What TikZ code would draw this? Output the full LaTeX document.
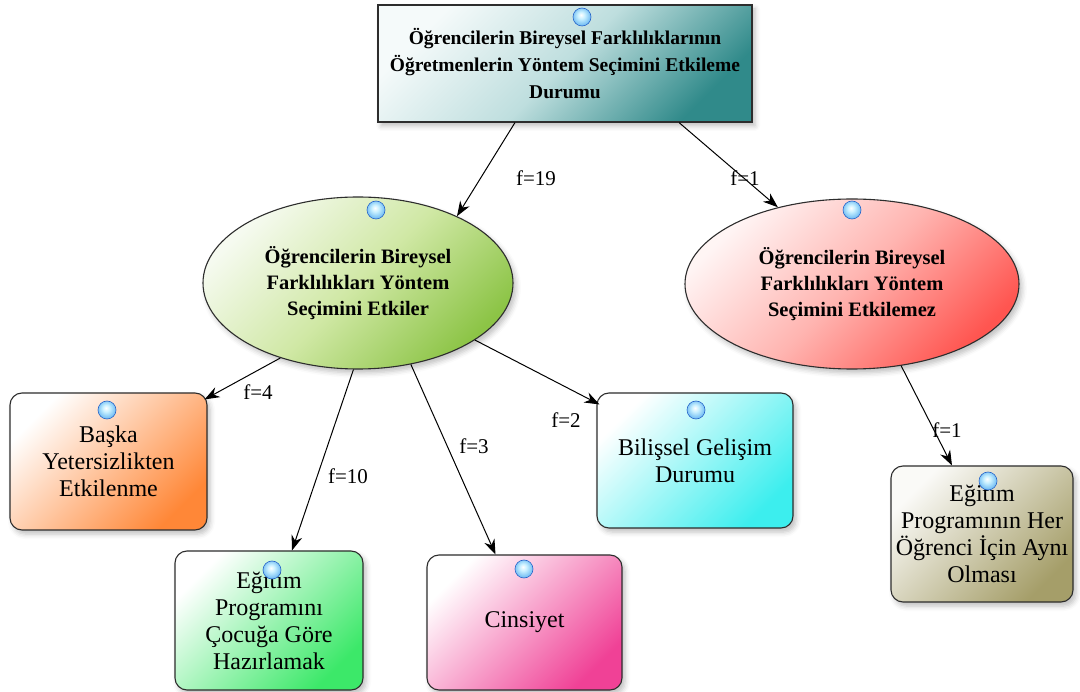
\documentclass[tikz,border=0pt]{standalone}
\usepackage{fontspec}
\setmainfont{Liberation Serif}
\usetikzlibrary{shapes.geometric,arrows.meta,calc,shadows.blur}

\definecolor{edgegray}{RGB}{45,45,45}
\definecolor{tealend}{RGB}{48,138,138}
\definecolor{tealmid}{RGB}{190,222,222}
\definecolor{greenend}{RGB}{140,196,70}
\definecolor{greenmid}{RGB}{208,232,165}
\definecolor{redend}{RGB}{255,85,80}
\definecolor{redmid}{RGB}{255,180,176}
\definecolor{orangeend}{RGB}{255,135,55}
\definecolor{mintend}{RGB}{60,232,105}
\definecolor{pinkend}{RGB}{240,65,150}
\definecolor{cyanend}{RGB}{60,238,238}
\definecolor{oliveend}{RGB}{165,158,105}
\definecolor{ballrim}{RGB}{40,100,200}
\definecolor{ballbody}{RGB}{90,175,240}
\definecolor{balllight}{RGB}{200,240,255}

% glassy status marker
\pgfdeclareradialshading{glassball}{\pgfpoint{-3bp}{6bp}}{%
  color(0bp)=(white); color(10bp)=(balllight); color(30bp)=(ballbody);
  color(42bp)=(ballrim); color(50bp)=(ballrim!80!black)}

\tikzset{
  frame/.style={draw=edgegray, line width=1.1pt},
  shadowed/.style={blur shadow={shadow xshift=3pt, shadow yshift=-4pt,
      shadow blur radius=5pt, shadow opacity=25}},
  headbox/.style={frame, shadowed, rectangle, minimum width=374pt,
      minimum height=117pt, align=center,
      font=\fontsize{19.5}{27}\selectfont\bfseries},
  bigoval/.style={frame, shadowed, ellipse, inner sep=0pt, align=center,
      font=\fontsize{20.5}{26}\selectfont\bfseries},
  leafbox/.style={frame, shadowed, rectangle, rounded corners=12pt,
      align=center, font=\fontsize{24}{27}\selectfont},
  grad/.style 2 args={top color=#1, bottom color=#2, shading angle=45},
  grad3/.style n args={3}{top color=#1, bottom color=#3, middle color=#2,
      shading angle=45},
  link/.style={draw=black, line width=1pt,
      -{Stealth[length=15pt,width=11pt]}},
  freq/.style={font=\fontsize{21}{24}\selectfont, inner sep=1pt},
  bubble/.style={circle, minimum size=18pt, inner sep=0pt,
      shading=glassball, draw=ballrim, line width=0.6pt},
}

\begin{document}
\begin{tikzpicture}[x=1pt,y=-1pt]
\useasboundingbox (0,0) rectangle (1080,692);

% main question
\node[headbox, grad3={white!96!teal}{tealmid}{tealend}] (top) at (565,63.5)
  {Öğrencilerin Bireysel Farklılıklarının\\
   Öğretmenlerin Yöntem Seçimini Etkileme\\ Durumu};

% two answers
\node[bigoval, minimum width=310pt, minimum height=172pt,
      grad3={white!92!greenend}{greenmid}{greenend}] (yes) at (358,283)
  {Öğrencilerin Bireysel\\ Farklılıkları Yöntem\\ Seçimini Etkiler};
\node[bigoval, minimum width=334pt, minimum height=170pt,
      grad3={white!94!redend}{redmid}{redend}] (no) at (852,284)
  {Öğrencilerin Bireysel\\ Farklılıkları Yöntem\\ Seçimini Etkilemez};

% reasons
\node[leafbox, minimum width=197pt, minimum height=137pt,
      grad={white}{orangeend}] (baska) at (108.5,461.5)
  {Başka\\ Yetersizlikten\\ Etkilenme};
\node[leafbox, minimum width=188pt, minimum height=139pt,
      grad={white}{mintend}] (prog) at (269,620.5)
  {Eğitim\\ Programını\\ Çocuğa Göre\\ Hazırlamak};
\node[leafbox, minimum width=195pt, minimum height=135pt,
      grad={white}{pinkend}] (cins) at (524.5,622.5)
  {Cinsiyet};
\node[leafbox, minimum width=196pt, minimum height=135pt,
      grad={white}{cyanend}] (bil) at (695,460.5)
  {Bilişsel Gelişim\\ Durumu};
\node[leafbox, minimum width=182pt, minimum height=136pt,
      grad={white!95!oliveend}{oliveend}] (her) at (982,534)
  {Eğitim\\ Programının Her\\ Öğrenci İçin Aynı\\ Olması};

% frequency labels
\node[freq] (f19) at (536,178) {f=19};
\node[freq] (f1a) at (745,178) {f=1};
\node[freq] (f4)  at (258,392) {f=4};
\node[freq] (f10) at (348,476) {f=10};
\node[freq] (f3)  at (474,446) {f=3};
\node[freq] (f2)  at (566,420) {f=2};
\node[freq] (f1b) at (947,430) {f=1};

% connectors
\draw[link] ($(top.south)+(-50,0)$) -- (yes.34);
\draw[link] ($(top.south)+(114,0)$) -- (no.134);
\draw[link] (yes.224) -- ($(baska.north east)+(-3,7)$);
\draw[link] (yes.267) -- ($(prog.north)+(23,0)$);
\draw[link] (yes.303) -- ($(cins.north)+(-29,0)$);
\draw[link] (yes.334) -- ($(bil.north west)+(3,12)$);
\draw[link] (no.301) -- ($(her.north)+(-30,0)$);

% status markers
\node[bubble] (m0) at (582,17) {};
\node[bubble] (m1) at (376,210) {};
\node[bubble] (m2) at (852,210) {};
\node[bubble] (m3) at (107,410) {};
\node[bubble] (m4) at (696,410) {};
\node[bubble] (m5) at (272,570) {};
\node[bubble] (m6) at (524,569) {};
\node[bubble] (m7) at (988,481) {};
\end{tikzpicture}
\end{document}
